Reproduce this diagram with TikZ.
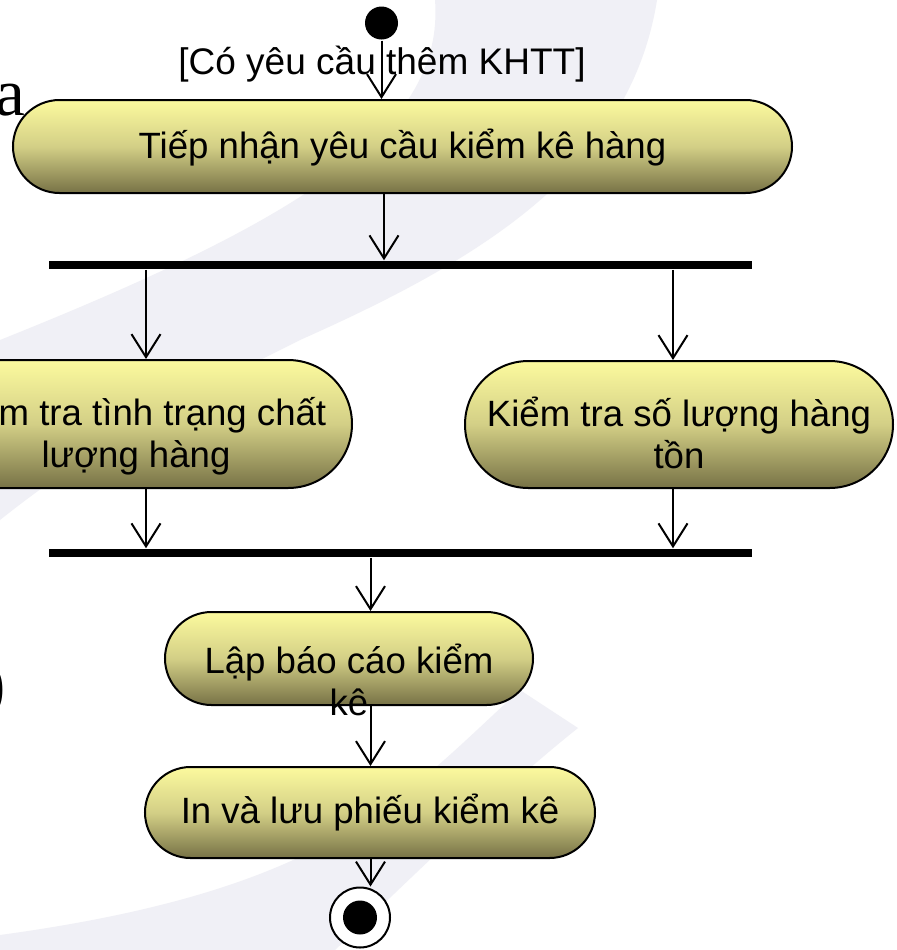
\documentclass[tikz,border=0pt]{standalone}
\usepackage{fontspec}
\setmainfont{Liberation Serif}
\newfontfamily\umlfont{Liberation Sans}
\usetikzlibrary{shapes.misc, arrows.meta}

\definecolor{acttop}{HTML}{FCFA9E}
\definecolor{actmid}{HTML}{D3CF86}
\definecolor{actbot}{HTML}{777246}
\definecolor{swoosh}{HTML}{F0F0F6}

% text of an activity: first baseline lowered by #1, no size of its own
\newcommand{\acttext}[2]{\raisebox{#1}[0pt][0pt]{\makebox[0pt]{\begin{tabular}[t]{@{}c@{}}#2\end{tabular}}}}

\begin{document}
\begin{tikzpicture}[x=0.5pt, y=-0.5pt, line width=1pt,
    act/.style = {draw, rounded rectangle, top color=acttop, bottom color=actbot, middle color=actmid,
                  inner sep=0pt, font=\umlfont\fontsize{18.3}{21}\selectfont},
    bar/.style = {fill=black, inner sep=0pt, minimum width=351.5pt, minimum height=3.75pt},
    initial/.style = {circle, fill=black, inner sep=0pt, minimum size=16.5pt},
    final/.style = {circle, draw, fill=white, inner sep=0pt, minimum size=30pt,
                    path picture={\fill[black] (path picture bounding box.center) circle (8.5pt);}},
    guard/.style = {font=\umlfont\fontsize{18.5}{21}\selectfont, inner sep=0pt},
    stray/.style = {font=\fontsize{33.5}{40}\selectfont, inner sep=0pt},
    flow/.style = {-{Straight Barb[length=11.5pt, width=14.5pt]}}]

    \path[use as bounding box, fill=white] (0,0) rectangle (897,950);

    % faint swooshes behind the diagram
    \fill[swoosh] (435,0) .. controls (445,130) and (300,220) .. (0,340) -- (0,520)
        .. controls (100,440) and (200,390) .. (300,340)
        .. controls (480,260) and (630,170) .. (657,0) -- cycle;
    \fill[swoosh] (578,728) -- (520,690) .. controls (400,800) and (330,890) .. (0,935) -- (0,950)
        -- (335,950) .. controls (420,870) and (500,790) .. cycle;

    \node[stray, anchor=base east] (a) at (26,115) {a};
    \node[stray, anchor=base west] (paren) at (-18,706) {)};

    % lanes of the flows
    \coordinate (colA) at (384,0);
    \coordinate (colL) at (146,0);
    \coordinate (colR) at (673,0);
    \coordinate (colB) at (370.5,0);

    \node[initial] (start) at (381.5,23) {};
    \node[guard, anchor=base] (guard) at (382,74) {[Có yêu cầu thêm KHTT]};
    \node[act, minimum width=389.5pt, minimum height=46.5pt] (recv) at (402.5,146.5)
        {\acttext{-5.9pt}{Tiếp nhận yêu cầu kiểm kê hàng}};
    \node[bar] (fork) at (400.5,265) {};
    \node[act, minimum width=216pt, minimum height=64pt] (quality) at (136,424)
        {\acttext{-0.5pt}{Kiểm tra tình trạng chất\\lượng hàng}};
    \node[act, minimum width=214pt, minimum height=63.5pt] (stock) at (679,424.5)
        {\acttext{-0.75pt}{Kiểm tra số lượng hàng\\tồn}};
    \node[bar] (join) at (400.5,553) {};
    \node[act, minimum width=184pt, minimum height=46.5pt] (report) at (349,658.5)
        {\acttext{-7.25pt}{Lập báo cáo kiểm\\kê}};
    \node[act, minimum width=225pt, minimum height=45.5pt] (print) at (370,812.5)
        {\acttext{-5.25pt}{In và lưu phiếu kiểm kê}};
    \node[final] (end) at (360,917.5) {};

    \draw[flow] (start) -- (start |- recv.north);
    \draw[flow] (recv.south -| colA) -- (fork.north -| colA);
    \draw[flow] (fork.south -| colL) -- (quality.north -| colL);
    \draw[flow] (fork.south -| colR) -- (stock.north -| colR);
    \draw[flow] (quality.south -| colL) -- (join.north -| colL);
    \draw[flow] (stock.south -| colR) -- (join.north -| colR);
    \draw[flow] (join.south -| colB) -- (report.north -| colB);
    \draw[flow] (report.south -| colB) -- (print.north -| colB);
    \draw[flow] (print.south -| colB) -- (end.north -| colB);
\end{tikzpicture}
\end{document}
